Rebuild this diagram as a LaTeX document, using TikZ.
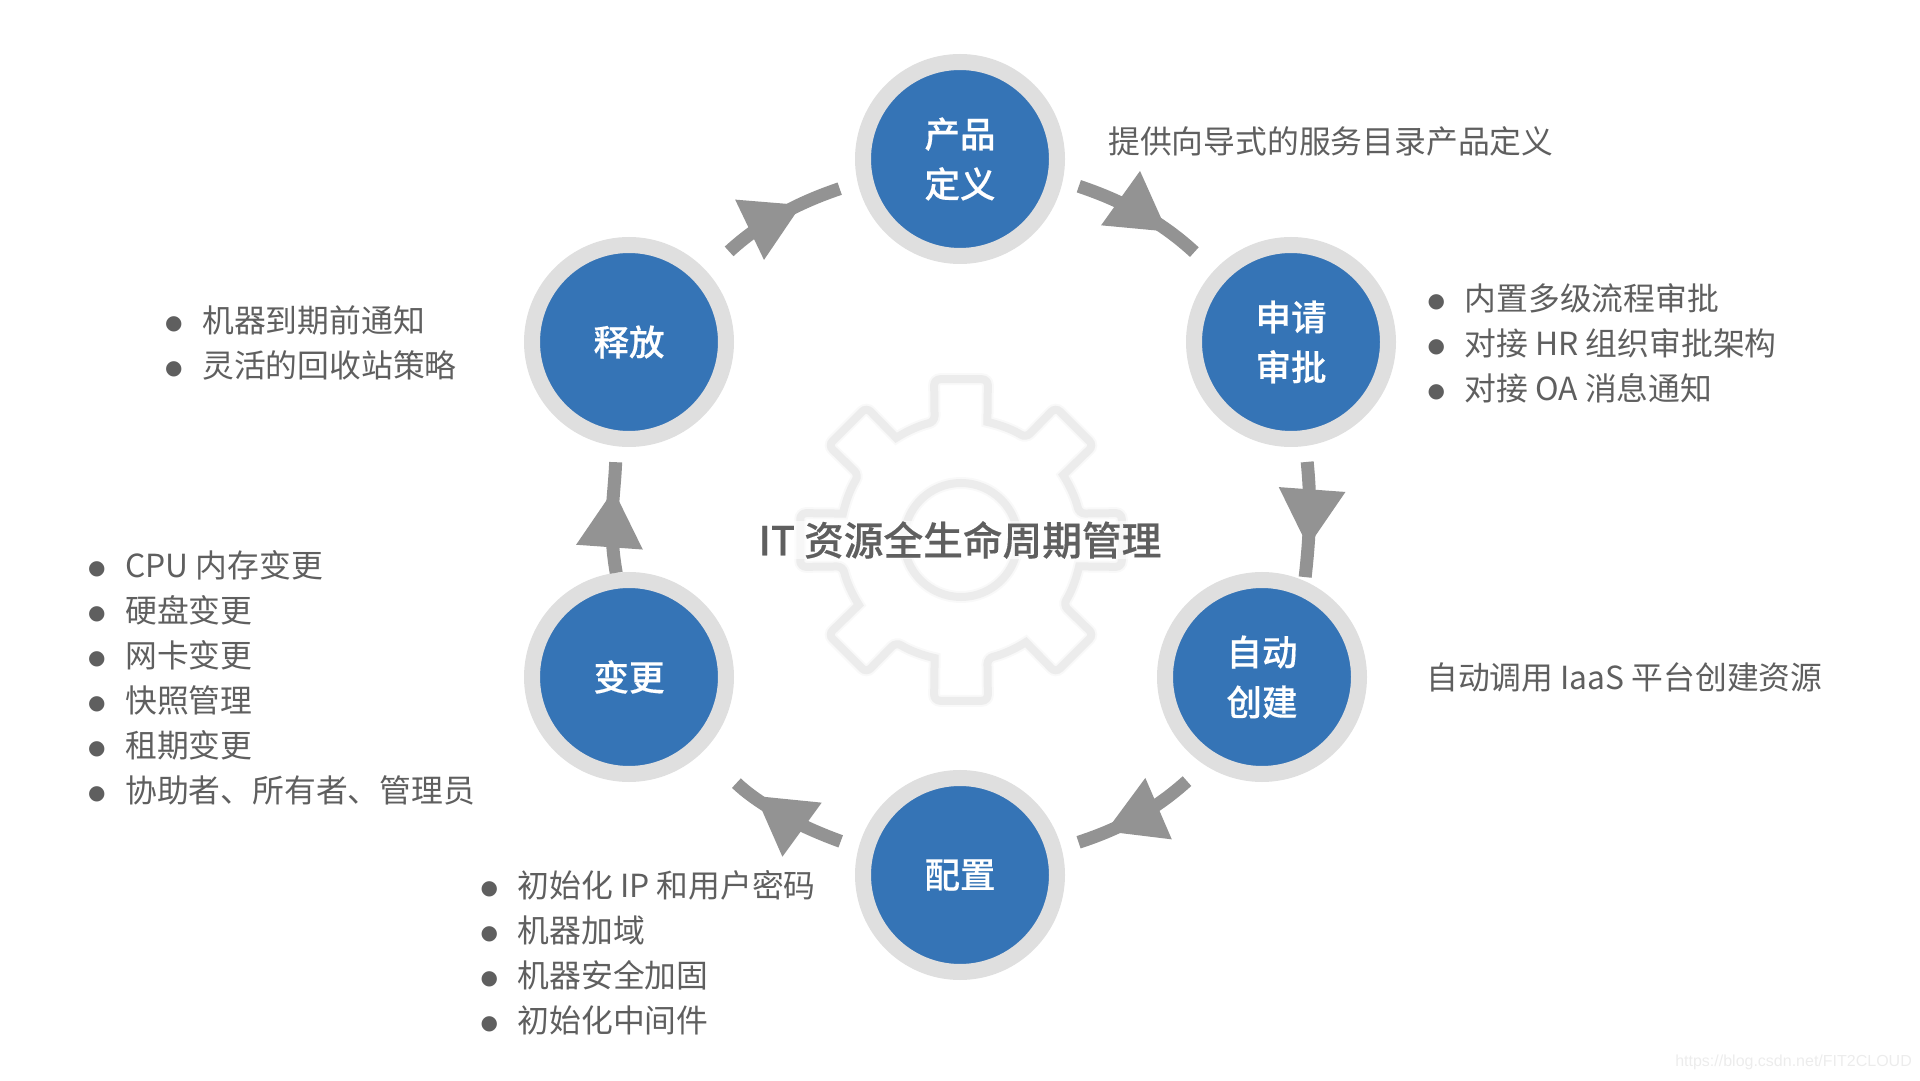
\documentclass[tikz,border=0pt]{standalone}
\usepackage{fontspec}
\setmainfont{Noto Sans CJK SC}
\newfontfamily\midfont[FakeBold=0.35]{Noto Sans CJK SC Medium}
\newfontfamily\dotfont{DejaVu Sans}
\newfontfamily\markfont{Liberation Sans}
\usetikzlibrary{arrows.meta,decorations.markings}
\definecolor{ringgray}{HTML}{DFDFDF}
\definecolor{discblue}{HTML}{3574B6}
\definecolor{flowgray}{HTML}{939393}
\definecolor{textgray}{HTML}{5F5F5F}
\definecolor{gearline}{HTML}{ECECEC}
\definecolor{gearhalo}{HTML}{F9F9F9}
\newcommand{\listdot}{\makebox[36.5pt][l]{\hspace{-0.5pt}\raisebox{2.6pt}{\dotfont\fontsize{20}{20}\selectfont ●}}}

\begin{document}
\begin{tikzpicture}[
x=1pt, y=1pt,
stage/.style={
	circle, minimum size=194pt, inner sep=0pt,
	draw=ringgray, line width=16pt, fill=discblue,
	text=white, align=center,
	font=\fontsize{35.5}{50}\selectfont\midfont,
},
note/.style={
	anchor=west, inner sep=0pt, align=left, text=textgray,
	font=\fontsize{31.8}{45}\selectfont,
},
flow/.style={
	draw=flowgray, line width=13pt,
	decoration={markings, mark=at position #1 with {\arrow{Triangle[length=58pt,width=63pt]}}},
	postaction={decorate},
},
gearstroke/.style={
	draw=gearline, line width=8pt,
	preaction={draw=gearhalo, line width=12pt},
},
]
\useasboundingbox (0,0) rectangle (1920,1080);

% gear behind the title
\begin{scope}[shift={(961,540)}]
\draw[gearstroke] (-12.6:121)
    \foreach \a in {0,45,...,315}{
        [rounded corners=6pt] -- (\a-9.5:163) -- (\a+9.5:163) -- (\a+12.6:121)
        [sharp corners] arc[start angle=\a+12.6, end angle=\a+32.4, radius=121]
    } -- cycle;
\draw[gearstroke] (0,0) circle (57);
\end{scope}
\node[fill=white, fill opacity=0.6, text opacity=1, inner sep=0pt, text=textgray,
    font=\fontsize{39.7}{45}\selectfont\midfont] (title) at (960,540) {IT 资源全生命周期管理};

% lifecycle stages
\node[stage] (prod) at (960,921) {产品\\定义};
\node[stage] (apply) at (1291,738) {申请\\审批};
\node[stage] (create) at (1262,403) {自动\\创建};
\node[stage] (config) at (960,205) {配置};
\node[stage] (change) at (629,403) {变更};
\node[stage] (release) at (629,738) {释放};

% arrows between the stages
\draw[flow=0.66, shorten <=17pt, shorten >=27pt] (prod.-12) to[bend left=12] (apply.137);
\draw[flow=0.75, shorten <=16pt, shorten >=4pt] (apply.-82) to[bend left=6] (create.66);
\draw[flow=0.72, shorten <=24pt, shorten >=18pt] (create.237) to[bend left=12] (config.15);
\draw[flow=0.63, shorten <=19pt, shorten >=46pt] (config.165) to[bend left=12] (change.-45);
\draw[flow=0.66, shorten <=0pt, shorten >=16pt] (change.97) to[out=100,in=-92] (release.263);
\draw[flow=0.66, shorten <=30pt, shorten >=19pt] (release.42) to[bend left=12] (prod.193);

% notes beside the stages
\node[note] (prodnote) at (1108,939) {提供向导式的服务目录产品定义};
\node[note] (applynote) at (1428,737) {\listdot 内置多级流程审批\\\listdot 对接 HR 组织审批架构\\\listdot 对接 OA 消息通知};
\node[note] (createnote) at (1426,403) {自动调用 IaaS 平台创建资源};
\node[note] (confignote) at (481,127.5) {\listdot 初始化 IP 和用户密码\\\listdot 机器加域\\\listdot 机器安全加固\\\listdot 初始化中间件};
\node[note] (changenote) at (88.5,402.5) {\listdot CPU 内存变更\\\listdot 硬盘变更\\\listdot 网卡变更\\\listdot 快照管理\\\listdot 租期变更\\\listdot 协助者、所有者、管理员};
\node[note] (releasenote) at (165.5,737) {\listdot 机器到期前通知\\\listdot 灵活的回收站策略};

\node[anchor=east, inner sep=0pt, text=gearline, font=\markfont\fontsize{16}{20}\selectfont] (stamp) at (1912,18) {https://blog.csdn.net/FIT2CLOUD};
\end{tikzpicture}
\end{document}
